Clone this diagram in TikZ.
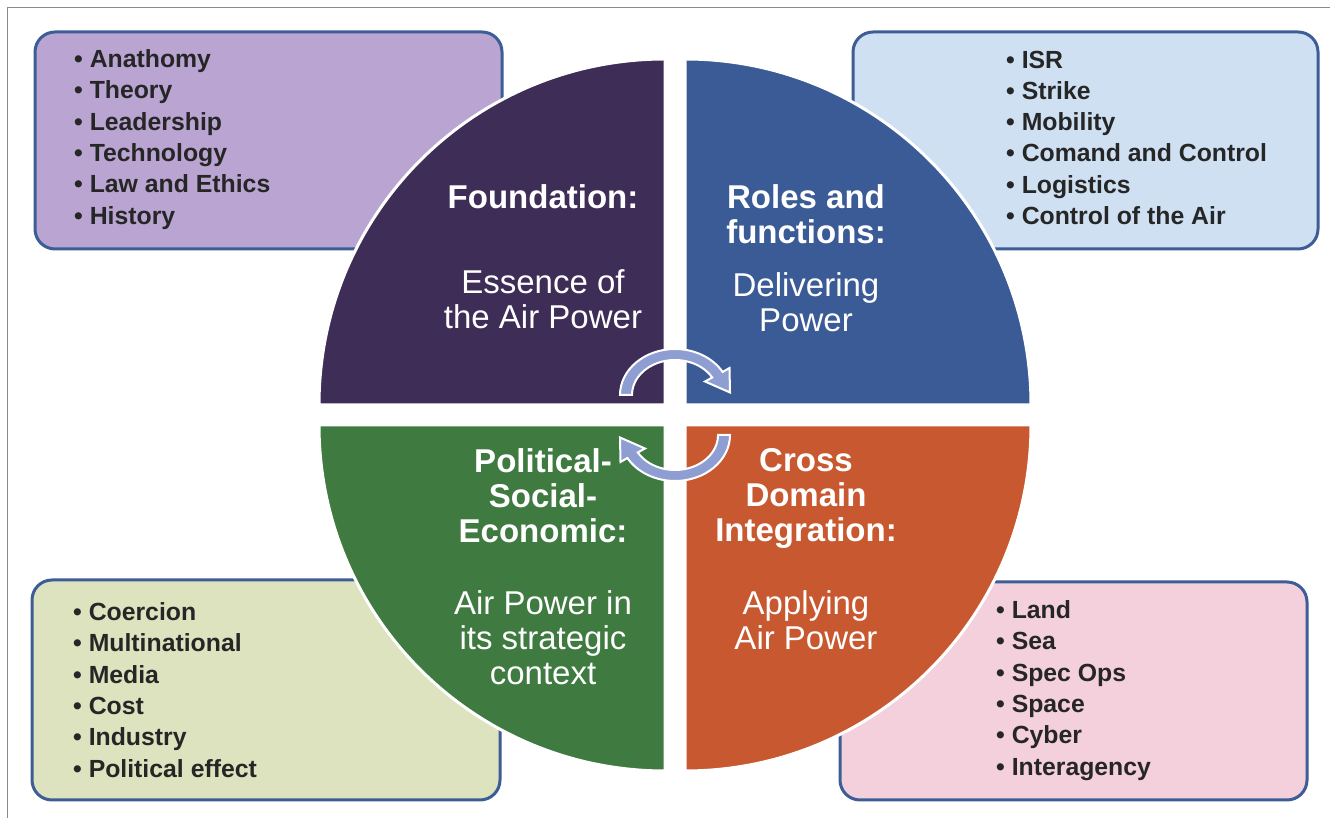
\documentclass[tikz,border=0pt]{standalone}
\usepackage{fontspec}
\setmainfont{Liberation Sans}
\definecolor{qpurple}{HTML}{3E2D56}
\definecolor{qblue}{HTML}{3B5B97}
\definecolor{qgreen}{HTML}{3F7A41}
\definecolor{qorange}{HTML}{C8582F}
\definecolor{boxline}{HTML}{3C5D95}
\definecolor{bpurple}{HTML}{B9A4D2}
\definecolor{bblue}{HTML}{CFE0F3}
\definecolor{bgreen}{HTML}{DDE3BE}
\definecolor{bpink}{HTML}{F3D0DC}
\definecolor{arrowfill}{HTML}{8E9ED2}
\definecolor{framegray}{HTML}{8A8A8A}
\tikzset{
  listbox/.style={draw=boxline, line width=3pt, rounded corners=20pt},
  quad/.style={draw=white, line width=3pt},
  listtext/.style={anchor=north west, inner sep=0pt, align=left, text=black!85,
     font=\bfseries\fontsize{24.8}{31.3}\selectfont},
  headtext/.style={anchor=north, inner sep=0pt, align=center, text=white,
     font=\bfseries\fontsize{33}{35}\selectfont},
  subtext/.style={anchor=north, inner sep=0pt, align=center, text=white,
     font=\fontsize{33}{35}\selectfont},
  cyclearrow/.style={fill=arrowfill, draw=white, line width=2pt, line join=miter}
}
\begin{document}
\begin{tikzpicture}[x=1pt,y=1pt]
\useasboundingbox (0,0) rectangle (1330,818);
\fill[white] (0,0) rectangle (1330,818);
% frame lines
\draw[framegray, line width=1pt] (7,0) -- (7,810) -- (1330,810);

% list boxes
\draw[listbox, fill=bpurple] (35,569) rectangle (502,786);
\draw[listbox, fill=bblue] (853,569) rectangle (1318,786);
\draw[listbox, fill=bgreen] (32,18) rectangle (500,238);
\draw[listbox, fill=bpink] (840,18) rectangle (1307,236);

\node[listtext] (tl) at (74,768.5) {• Anathomy\\• Theory\\• Leadership\\• Technology\\• Law and Ethics\\• History};
\node[listtext] (tr) at (1006,767.5) {• ISR\\• Strike\\• Mobility\\• Comand and Control\\• Logistics\\• Control of the Air};
\node[listtext] (bl) at (73,215.5) {• Coercion\\• Multinational\\• Media\\• Cost\\• Industry\\• Political effect};
\node[listtext] (br) at (996,217.5) {• Land\\• Sea\\• Spec Ops\\• Space\\• Cyber\\• Interagency};

% quadrants
\filldraw[quad, fill=qpurple] (665,413) -- ++(0,346) arc[start angle=90, end angle=180, radius=346] -- cycle;
\filldraw[quad, fill=qblue] (685,413) -- ++(346,0) arc[start angle=0, end angle=90, radius=346] -- cycle;
\filldraw[quad, fill=qgreen] (665,393) -- ++(-346,0) arc[start angle=180, end angle=270, radius=346] -- cycle;
\filldraw[quad, fill=qorange] (685,393) -- ++(0,-346) arc[start angle=270, end angle=360, radius=346] -- cycle;

% quadrant texts
\node[headtext] (fh) at (543,634) {Foundation:};
\node[subtext] (fs) at (543,549) {Essence of\\the Air Power};
\node[headtext] (rh) at (806,634) {Roles and\\functions:};
\node[subtext] (rs) at (806,546) {Delivering\\Power};
\node[headtext] (ph) at (543,370) {Political-\\Social-\\Economic:};
\node[subtext] (ps) at (543,228) {Air Power in\\its strategic\\context};
\node[headtext] (ch) at (806,370) {Cross\\Domain\\Integration:};
\node[subtext] (cs) at (806,228) {Applying\\Air Power};

% cycle arrows
\path[cyclearrow] (620,423) arc[start angle=180, end angle=30, x radius=55, y radius=46]
  -- (729.5,450) -- (730,425.5) -- (705,436.5) -- (712.2,440.5)
  arc[start angle=30, end angle=180, x radius=43, y radius=35] -- cycle;
\begin{scope}[rotate around={180:(675,403)}]
\path[cyclearrow] (620,423) arc[start angle=180, end angle=30, x radius=55, y radius=46]
  -- (729.5,450) -- (730,425.5) -- (705,436.5) -- (712.2,440.5)
  arc[start angle=30, end angle=180, x radius=43, y radius=35] -- cycle;
\end{scope}
\end{tikzpicture}
\end{document}
